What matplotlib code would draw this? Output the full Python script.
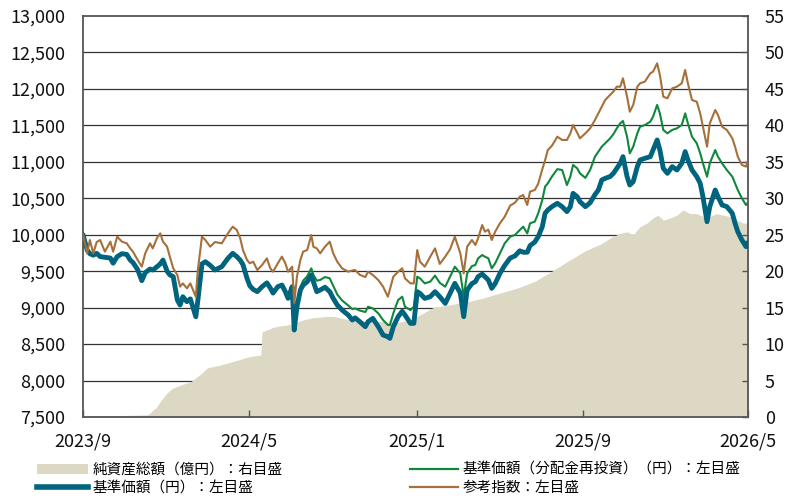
import numpy as np
import pandas as pd
import matplotlib
matplotlib.use('Agg')
import matplotlib.pyplot as plt
from matplotlib.patches import Patch
from matplotlib.lines import Line2D
from matplotlib.ticker import FuncFormatter

plt.rcParams['font.family'] = ['Noto Sans CJK JP', 'DejaVu Sans']

# ---------------- data ----------------
start_date = '2023-09-01'

# days elapsed since start_date for the price series
days = [0, 6, 10, 15, 20, 25, 32, 40, 44, 50,
        57, 64, 69, 73, 80, 86, 91, 98, 102, 108,
        113, 117, 123, 127, 132, 138, 142, 146, 152, 157,
        161, 165, 168, 174, 179, 186, 193, 203, 212, 219,
        225, 230, 234, 240, 244, 249, 255, 262, 269, 274,
        278, 285, 291, 296, 300, 306, 309, 313, 318, 322,
        328, 334, 337, 342, 347, 354, 361, 366, 372, 379,
        388, 394, 398, 405, 413, 417, 424, 432, 439, 446,
        449, 454, 461, 467, 471, 479, 484, 489, 493, 500,
        508, 515, 522, 530, 537, 544, 552, 557, 562, 569,
        574, 578, 584, 588, 593, 598, 603, 610, 617, 625,
        632, 639, 644, 650, 654, 661, 666, 672, 676, 680,
        686, 694, 701, 708, 713, 717, 723, 727, 735, 742,
        749, 754, 759, 764, 771, 776, 781, 786, 790, 796,
        800, 805, 811, 815, 822, 830, 834, 840, 844, 849,
        855, 862, 869, 876, 881, 885, 891, 898, 903, 907,
        913, 917, 925, 929, 935, 942, 950, 954, 958, 964,
        970, 972]

# 基準価額(円)
nav = [10000, 9790, 9740, 9720, 9745, 9700, 9690, 9680, 9610, 9700,
       9740, 9730, 9653, 9620, 9520, 9370, 9480, 9530, 9516, 9560,
       9600, 9653, 9500, 9450, 9425, 9105, 9036, 9150, 9082, 9120,
       9000, 8876, 9100, 9600, 9630, 9580, 9516, 9562, 9676, 9745,
       9700, 9650, 9590, 9400, 9300, 9250, 9220, 9288, 9340, 9270,
       9200, 9288, 9310, 9219, 9128, 9288, 8693, 9013, 9242, 9310,
       9356, 9448, 9356, 9219, 9242, 9280, 9219, 9128, 9036, 8968,
       8899, 8830, 8860, 8807, 8739, 8807, 8853, 8739, 8625, 8600,
       8579, 8739, 8876, 8950, 8900, 8785, 8785, 9219, 9196, 9127,
       9150, 9219, 9150, 9059, 9196, 9333, 9200, 8876, 9242, 9330,
       9356, 9425, 9460, 9425, 9379, 9265, 9330, 9470, 9580, 9680,
       9710, 9780, 9760, 9760, 9850, 9900, 9974, 10111, 10294, 10339,
       10385, 10431, 10385, 10317, 10385, 10568, 10522, 10454, 10385, 10440,
       10550, 10614, 10751, 10774, 10797, 10842, 10911, 10980, 11071, 10797,
       10682, 10728, 10934, 11025, 11048, 11071, 11162, 11300, 11162, 10911,
       10842, 10934, 10888, 10980, 11140, 11025, 10888, 10797, 10705, 10522,
       10179, 10385, 10614, 10522, 10408, 10385, 10294, 10157, 10042, 9928,
       9837, 9890]

# 基準価額(分配金再投資)(円)
nav_reinv = [10000, 9790, 9740, 9720, 9745, 9700, 9690, 9680, 9610, 9700,
             9740, 9730, 9653, 9620, 9520, 9370, 9480, 9530, 9516, 9560,
             9600, 9653, 9500, 9450, 9425, 9105, 9036, 9150, 9082, 9120,
             9000, 8876, 9100, 9600, 9630, 9580, 9516, 9562, 9676, 9745,
             9700, 9650, 9590, 9400, 9300, 9250, 9220, 9288, 9340, 9270,
             9200, 9288, 9310, 9219, 9128, 9288, 8693, 9013, 9280, 9370,
             9430, 9539, 9450, 9370, 9380, 9420, 9402, 9300, 9180, 9100,
             9030, 8980, 8990, 8960, 8940, 9013, 8990, 8922, 8830, 8762,
             8762, 8922, 9105, 9150, 9013, 8967, 9013, 9425, 9402, 9333,
             9356, 9440, 9340, 9288, 9425, 9562, 9470, 9150, 9470, 9570,
             9585, 9676, 9722, 9699, 9677, 9539, 9608, 9745, 9882, 9974,
             9997, 10065, 10111, 10019, 10157, 10180, 10294, 10477, 10659, 10705,
             10797, 10900, 10888, 10682, 10797, 10957, 10911, 10842, 10780, 10890,
             11071, 11140, 11208, 11254, 11320, 11380, 11460, 11528, 11560, 11345,
             11117, 11208, 11391, 11482, 11505, 11551, 11620, 11780, 11665, 11437,
             11391, 11437, 11460, 11505, 11665, 11528, 11345, 11254, 11117, 10980,
             10797, 10980, 11162, 11071, 10980, 10888, 10797, 10705, 10614, 10500,
             10408, 10431]

# 参考指数
ref_index = [10000, 9745, 9928, 9745, 9900, 9928, 9768, 9905, 9768, 9973,
             9905, 9882, 9813, 9768, 9653, 9562, 9745, 9882, 9813, 9951,
             10019, 9905, 9836, 9700, 9539, 9448, 9288, 9333, 9265, 9333,
             9242, 9150, 9516, 9973, 9928, 9836, 9900, 9882, 10019, 10111,
             10065, 9951, 9791, 9653, 9608, 9630, 9516, 9585, 9676, 9539,
             9493, 9608, 9700, 9608, 9493, 9562, 9059, 9425, 9653, 9768,
             9791, 9996, 9836, 9813, 9745, 9836, 9905, 9745, 9630, 9539,
             9493, 9510, 9516, 9450, 9420, 9493, 9448, 9379, 9288, 9150,
             9250, 9425, 9493, 9539, 9402, 9333, 9333, 9790, 9630, 9562,
             9699, 9813, 9600, 9700, 9800, 9973, 9745, 9470, 9836, 9928,
             9859, 9950, 10133, 10042, 10070, 9928, 10042, 10157, 10248, 10400,
             10440, 10522, 10545, 10408, 10591, 10614, 10700, 10900, 11020, 11162,
             11220, 11345, 11300, 11300, 11391, 11505, 11400, 11322, 11391, 11460,
             11574, 11665, 11757, 11848, 11917, 11963, 12031, 12030, 12145, 11894,
             11688, 11780, 12031, 12077, 12100, 12214, 12237, 12351, 12191, 11894,
             11871, 12008, 12031, 12077, 12260, 12077, 11848, 11825, 11665, 11482,
             11208, 11528, 11711, 11642, 11482, 11437, 11322, 11208, 11071, 10957,
             10934, 11000]

# 純資産総額(億円)
aum_days = [0, 54, 95, 101, 108, 116, 123, 130, 138, 146,
            157, 164, 171, 177, 181, 189, 200, 211, 219, 230,
            240, 252, 260, 262, 271, 278, 288, 298, 307, 318,
            326, 335, 347, 357, 366, 376, 391, 405, 420, 439,
            456, 478, 493, 512, 537, 562, 585, 610, 636, 661,
            686, 710, 735, 759, 774, 786, 796, 805, 815, 825,
            834, 841, 849, 859, 869, 878, 888, 898, 907, 917,
            927, 936, 946, 957, 966, 972]
aum = [0.1, 0.2, 0.3, 0.8, 1.4, 2.5, 3.3, 3.9, 4.2, 4.5,
       4.8, 5.3, 5.8, 6.3, 6.7, 6.9, 7.1, 7.4, 7.6, 7.9,
       8.2, 8.4, 8.5, 11.7, 12.0, 12.3, 12.5, 12.6, 12.8, 13.2,
       13.4, 13.6, 13.7, 13.8, 13.8, 13.6, 13.3, 13.2, 13.1, 13.1,
       12.9, 13.3, 14.0, 15.0, 15.4, 15.8, 16.3, 17.0, 17.7, 18.6,
       20.0, 21.4, 22.8, 23.8, 24.7, 25.2, 25.4, 25.0, 26.1, 26.6,
       27.3, 27.7, 27.0, 27.3, 27.7, 28.4, 27.9, 27.9, 27.5, 27.5,
       27.9, 27.7, 27.5, 27.0, 26.6, 26.6]

xtick_dates = ['2023-09-01', '2024-05-01', '2025-01-01', '2025-09-01', '2026-05-01']
xtick_labels = ['2023/9', '2024/5', '2025/1', '2025/9', '2026/5']
left_ticks = list(range(7500, 13001, 500))
right_ticks = list(range(0, 56, 5))

labels = ['純資産総額（億円）：右目盛', '基準価額（円）：左目盛',
          '基準価額（分配金再投資）（円）：左目盛', '参考指数：左目盛']

# ---------------- style ----------------
c_area = '#dcd8c4'
c_nav = '#00647e'
c_reinv = '#10873c'
c_ref = '#a5703a'
c_grid = '#333333'
c_spine = '#555555'

start = pd.Timestamp(start_date)
dates = start + pd.to_timedelta(days, unit='D')
aum_dates = start + pd.to_timedelta(aum_days, unit='D')

fig = plt.figure(figsize=(7.87, 4.99), dpi=100)
ax = fig.add_axes([0.1055, 0.1643, 0.845, 0.8036])
ax2 = ax.twinx()
ax.set_zorder(2)
ax2.set_zorder(1)
ax.patch.set_visible(False)

# right axis: area + grid below it
ax2.set_ylim(right_ticks[0], right_ticks[-1])
ax2.set_yticks(right_ticks)
for v in right_ticks[1:-1]:
    ax2.axhline(v, color=c_grid, lw=0.9, zorder=0.5)
ax2.fill_between(aum_dates, 0, aum, color=c_area, lw=0, zorder=1)

# left axis lines
ax.plot(dates, nav_reinv, color=c_reinv, lw=1.5, zorder=2)
ax.plot(dates, nav, color=c_nav, lw=3.5, zorder=3, solid_capstyle='round')
ax.plot(dates, ref_index, color=c_ref, lw=1.5, zorder=4)

ax.set_ylim(left_ticks[0], left_ticks[-1])
ax.set_yticks(left_ticks)
ax.yaxis.set_major_formatter(FuncFormatter(lambda v, p: f'{int(v):,}'))
ax.set_xlim(pd.Timestamp(xtick_dates[0]), pd.Timestamp(xtick_dates[-1]))
ax.set_xticks(pd.to_datetime(xtick_dates))
ax.set_xticklabels(xtick_labels)

for s in ax.spines.values():
    s.set_color(c_spine)
    s.set_linewidth(1.3)
for s in ax2.spines.values():
    s.set_visible(False)

ax.tick_params(axis='y', length=0, pad=13, labelsize=13, colors='#111111')
ax.tick_params(axis='x', direction='in', length=5, width=1, color=c_spine,
               pad=11, labelsize=13, labelcolor='#111111')
ax2.tick_params(axis='y', direction='in', length=4, width=1, color=c_spine,
                pad=12, labelsize=13, labelcolor='#111111')

h_area = Patch(facecolor=c_area, edgecolor='none')
h_nav = Line2D([], [], color=c_nav, lw=4)
h_reinv = Line2D([], [], color=c_reinv, lw=1.6)
h_ref = Line2D([], [], color=c_ref, lw=1.6)

common = dict(frameon=False, fontsize=10.5, borderpad=0, borderaxespad=0,
              handletextpad=0.3, labelspacing=0.28, loc='upper left')
fig.legend([h_area, h_nav], labels[:2], bbox_to_anchor=(37 / 787, 1 - 463 / 499),
           handlelength=3.5, **common)
fig.legend([h_reinv, h_ref], labels[2:], bbox_to_anchor=(410 / 787, 1 - 463 / 499),
           handlelength=3.3, **common)

fig.savefig('out.png', dpi=100)
